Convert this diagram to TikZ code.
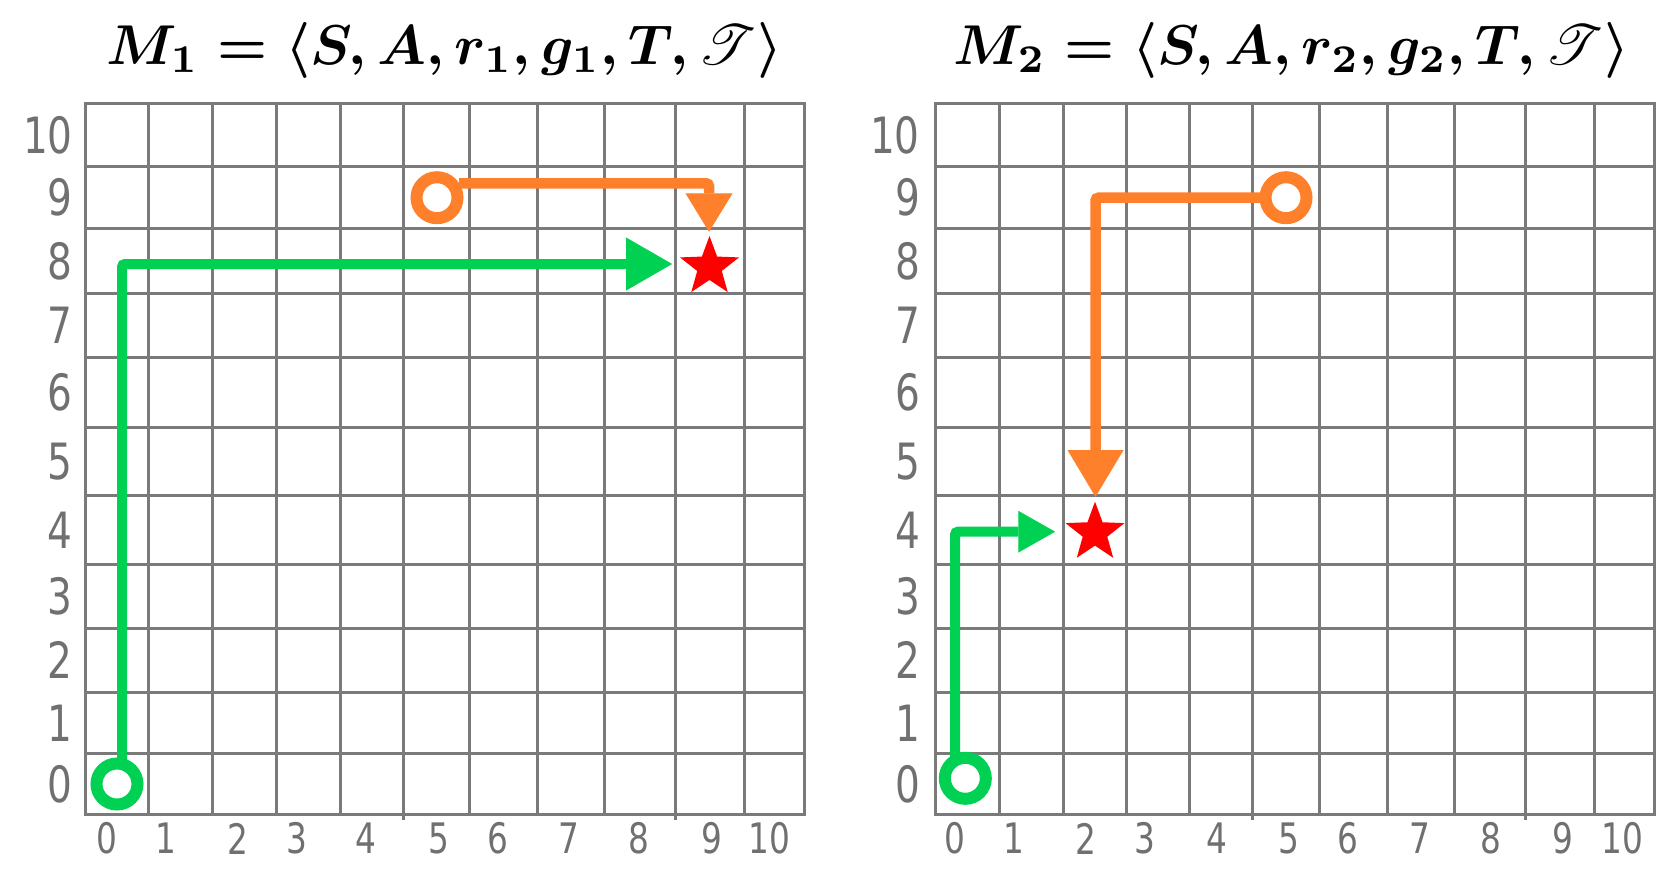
\documentclass[tikz,border=0pt]{standalone}
\usepackage{amsmath}
\usepackage{mathrsfs}
\usepackage{graphicx}
\usepackage{fontspec}
\usetikzlibrary{arrows.meta,shapes.geometric}
\newfontfamily\labfont{DejaVu Sans}
\definecolor{gridgray}{RGB}{122,122,122}
\definecolor{labgray}{RGB}{112,112,112}
\definecolor{mygreen}{RGB}{0,209,82}
\definecolor{myorange}{RGB}{255,128,42}
\definecolor{myred}{RGB}{255,0,0}
\pgfdeclarelayer{bg}
\pgfdeclarelayer{mid}
\pgfsetlayers{bg,mid,main}
\tikzset{
  gridline/.style={draw=gridgray, line width=3pt, line cap=rect},
  ylab/.style={anchor=east, inner sep=0pt, text=labgray, font=\labfont\fontsize{50}{50}\selectfont},
  xlab/.style={anchor=center, inner sep=0pt, text=labgray, font=\labfont\fontsize{42}{42}\selectfont},
  title/.style={anchor=center, inner sep=0pt},
  gstart/.style={circle, draw=mygreen, fill=white, line width=12pt, minimum size=41pt, inner sep=0pt},
  ostart/.style={circle, draw=myorange, fill=white, line width=12pt, minimum size=41pt, inner sep=0pt},
  goal/.style={star, star points=5, star point ratio=2.4, fill=myred, minimum size=62pt, inner sep=0pt},
  gpath/.style={draw=mygreen, line width=10pt, rounded corners=3pt},
  opath/.style={draw=myorange, line width=10.5pt, rounded corners=3pt},
}
\begin{document}
\begin{tikzpicture}[x=1pt,y=-1pt]
\useasboundingbox (0,0) rectangle (1680,884);

% titles
\node[title] (t1) at (444.5,50) {\resizebox{675pt}{!}{\boldmath$M_1=\langle S,A,r_1,g_1,T,\mathscr{T}\rangle$}};
\node[title] (t2) at (1291.5,50) {\resizebox{675pt}{!}{\boldmath$M_2=\langle S,A,r_2,g_2,T,\mathscr{T}\rangle$}};

% grids
\begin{pgfonlayer}{bg}
\foreach \x in {85,148.5,212.8,276.8,340.5,403.3,469.5,537,604.5,675.3,744.3,804.3}
  \draw[gridline] (\x,103.5) -- (\x,814.5);
\foreach \y in {103.5,166.5,228.8,293,357.8,427.3,495.5,564.8,628.2,692.2,753.8,814.5}
  \draw[gridline] (85,\y) -- (804.3,\y);
\foreach \x in {935.3,999.3,1063.3,1126.8,1189.5,1252.7,1319,1387.2,1454.7,1525.3,1594.7,1654.7}
  \draw[gridline] (\x,103.5) -- (\x,814.5);
\foreach \y in {103.5,166.5,228.8,293,357.8,427.3,495.5,564.8,628.2,692.2,753.8,814.5}
  \draw[gridline] (935.3,\y) -- (1654.7,\y);
\foreach \x in {403.3,675.3,1252.7,1525.3}
  \draw[gridline] (\x,814.5) -- (\x,818);
\end{pgfonlayer}

% y labels
\foreach \v/\y in {10/135,9/197.6,8/260.9,7/325.4,6/392.5,5/461.4,4/530.1,3/596.5,2/660.2,1/723,0/784.1}{
  \node[ylab] (yla\v) at (73,\y) {\scalebox{0.78}[1]{\v}};
  \node[ylab] (ylb\v) at (920,\y) {\scalebox{0.78}[1]{\v}};
}
% x labels
\foreach \v/\x in {0/107,1/166,2/238,3/297,4/366,5/439,6/497.7,7/569,8/639,9/711.7,10/769}
  \node[xlab] (xla\v) at (\x,838.5) {\scalebox{0.78}[1]{\v}};
\foreach \v/\x in {0/955.3,1/1014,2/1085.7,3/1145,4/1216.7,5/1289,6/1348.3,7/1420,8/1490.7,9/1563.3,10/1622.3}
  \node[xlab] (xlb\v) at (\x,838.5) {\scalebox{0.78}[1]{\v}};

% start and goal nodes
\node[gstart] (gs1) at (117,784) {};
\node[ostart] (os1) at (437,197.7) {};
\node[goal] (st1) at (709.5,267) {};
\node[gstart] (gs2) at (965.3,778.3) {};
\node[ostart] (os2) at (1286,197.7) {};
\node[goal] (st2) at (1095,532.7) {};

% corners and arrow tips
\coordinate (gc1) at (122,264);
\coordinate (gtip1) at (672,264);
\coordinate (otip1) at (709,231.7);
\coordinate (gc2) at (955,531.7);
\coordinate (gtip2) at (1055,531.7);
\coordinate (otip2) at (1095.5,496.7);

\begin{pgfonlayer}{mid}
\draw[gpath, -{Triangle[length=46pt,width=53pt,line width=0.01pt]}] (gc1 |- gs1.center) -- (gc1) -- (gtip1);
\draw[opath, -{Triangle[length=38.4pt,width=47pt,line width=0.01pt]}] (os1.33) -| (otip1);
\draw[gpath, -{Triangle[length=36.7pt,width=41.6pt,line width=0.01pt]}] (gc2 |- gs2.center) -- (gc2) -- (gtip2);
\draw[opath, -{Triangle[length=46.7pt,width=56pt,line width=0.01pt]}] (os2.center) -| (otip2);
\end{pgfonlayer}
\end{tikzpicture}
\end{document}
